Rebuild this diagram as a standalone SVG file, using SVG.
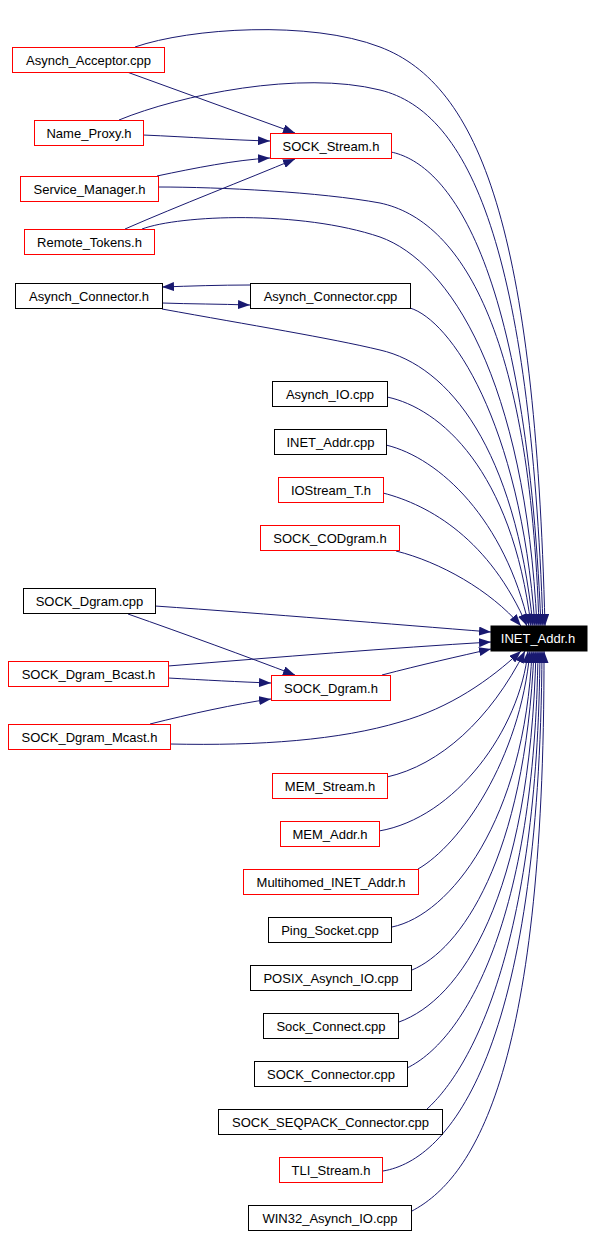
<svg xmlns="http://www.w3.org/2000/svg" width="595" height="1236" viewBox="0 0 595 1236">
<style>
.n rect{fill:#ffffff;stroke-width:1}
.r rect{stroke:#ff0000}
.b rect{stroke:#000000}
.n text{font-family:"Liberation Sans",Arial,sans-serif;font-size:13px;text-anchor:middle;fill:#000000}
#INET_Addr_h rect{fill:#000000;stroke:#000000}
#INET_Addr_h text{fill:#ffffff}
.e path{fill:none;stroke:#191970;stroke-width:1;marker-end:url(#ah)}
</style>
<defs>
<marker id="ah" markerUnits="userSpaceOnUse" markerWidth="12" markerHeight="9" refX="12" refY="4.5" orient="auto">
<path d="M0,0 L12,4.5 L0,9 z" fill="#191970"/>
</marker>
</defs>
<rect width="595" height="1236" fill="#ffffff"/>
<g id="edges" class="e">
<path d="M135,47 C190,28 310,20 380,47 C480,85 535,230 545,626"/>
<path d="M127,72 L295,133"/>
<path d="M119,120 C180,95 300,70 380,90 C470,112 530,250 543,626"/>
<path d="M143,135 C190,137 230,140 270,141"/>
<path d="M391,152 C440,162 525,240 541,626"/>
<path d="M157,176 C195,168 235,160 270,158"/>
<path d="M158,187 C220,187 320,192 380,203 C460,220 530,330 539,626"/>
<path d="M125,229 C180,205 245,180 295,159"/>
<path d="M142,229 C180,215 300,210 380,237 C450,262 525,380 537,626"/>
<path d="M250,285 C220,285 190,286 162,287"/>
<path d="M162,303 C190,304 220,304 250,305"/>
<path d="M162,309 C250,325 330,338 380,350 C450,366 515,450 533,626"/>
<path d="M410,308 C450,320 520,420 535,626"/>
<path d="M387,397 C440,408 512,470 531,626"/>
<path d="M386,445 C440,458 505,520 529,626"/>
<path d="M383,493 C430,505 490,540 527,626"/>
<path d="M396,551 C440,562 490,590 521,626"/>
<path d="M155,606 C270,614 390,624 491,632"/>
<path d="M128,614 C185,634 245,656 295,675"/>
<path d="M168,666 C280,657 390,648 491,642"/>
<path d="M168,678 C205,680 240,682 271,683"/>
<path d="M150,724 C190,714 235,704 271,699"/>
<path d="M382,675 C420,665 460,656 491,649"/>
<path d="M170,744 C260,746 340,740 400,722 C450,708 490,680 521,651"/>
<path d="M387,777 C440,765 490,720 525,651"/>
<path d="M379,831 C455,818 520,730 528,651"/>
<path d="M418,869 C460,845 520,760 530,651"/>
<path d="M392,927 C450,915 525,820 532,651"/>
<path d="M412,970 C460,950 525,860 534,651"/>
<path d="M399,1022 C460,1000 530,900 536,651"/>
<path d="M407,1068 C465,1040 535,920 538,651"/>
<path d="M427,1109 C470,1070 538,950 540,651"/>
<path d="M383,1171 C450,1160 540,1050 542,651"/>
<path d="M412,1211 C470,1180 545,1080 544,651"/>
</g>
<g id="Asynch_Acceptor_cpp" class="n r"><rect x="12.5" y="47.5" width="152" height="25"/><text x="88.5" y="64.5">Asynch_Acceptor.cpp</text></g>
<g id="Name_Proxy_h" class="n r"><rect x="34.5" y="120.5" width="109" height="25"/><text x="89" y="137.5">Name_Proxy.h</text></g>
<g id="SOCK_Stream_h" class="n r"><rect x="270.5" y="133.5" width="121" height="25"/><text x="331" y="150.5">SOCK_Stream.h</text></g>
<g id="Service_Manager_h" class="n r"><rect x="20.5" y="176.5" width="138" height="25"/><text x="89.5" y="193.5">Service_Manager.h</text></g>
<g id="Remote_Tokens_h" class="n r"><rect x="24.5" y="229.5" width="130" height="25"/><text x="89.5" y="246.5">Remote_Tokens.h</text></g>
<g id="Asynch_Connector_h" class="n b"><rect x="15.5" y="283.5" width="147" height="25"/><text x="89" y="300.5">Asynch_Connector.h</text></g>
<g id="Asynch_Connector_cpp" class="n b"><rect x="250.5" y="283.5" width="160" height="25"/><text x="330.5" y="300.5">Asynch_Connector.cpp</text></g>
<g id="Asynch_IO_cpp" class="n b"><rect x="272.5" y="381.5" width="115" height="25"/><text x="330" y="398.5">Asynch_IO.cpp</text></g>
<g id="INET_Addr_cpp" class="n b"><rect x="274.5" y="429.5" width="112" height="25"/><text x="330.5" y="446.5">INET_Addr.cpp</text></g>
<g id="IOStream_T_h" class="n r"><rect x="278.5" y="477.5" width="105" height="25"/><text x="331" y="494.5">IOStream_T.h</text></g>
<g id="SOCK_CODgram_h" class="n r"><rect x="260.5" y="525.5" width="139" height="25"/><text x="330" y="542.5">SOCK_CODgram.h</text></g>
<g id="SOCK_Dgram_cpp" class="n b"><rect x="23.5" y="588.5" width="132" height="25"/><text x="89.5" y="605.5">SOCK_Dgram.cpp</text></g>
<g id="INET_Addr_h" class="n"><rect x="491" y="626" width="96" height="25"/><text x="538" y="643">INET_Addr.h</text></g>
<g id="SOCK_Dgram_Bcast_h" class="n r"><rect x="8.5" y="661.5" width="160" height="25"/><text x="88.5" y="678.5">SOCK_Dgram_Bcast.h</text></g>
<g id="SOCK_Dgram_h" class="n r"><rect x="271.5" y="675.5" width="119" height="25"/><text x="331" y="692.5">SOCK_Dgram.h</text></g>
<g id="SOCK_Dgram_Mcast_h" class="n r"><rect x="8.5" y="724.5" width="162" height="25"/><text x="89.5" y="741.5">SOCK_Dgram_Mcast.h</text></g>
<g id="MEM_Stream_h" class="n r"><rect x="272.5" y="773.5" width="115" height="25"/><text x="330" y="790.5">MEM_Stream.h</text></g>
<g id="MEM_Addr_h" class="n r"><rect x="280.5" y="821.5" width="99" height="25"/><text x="330" y="838.5">MEM_Addr.h</text></g>
<g id="Multihomed_INET_Addr_h" class="n r"><rect x="243.5" y="869.5" width="175" height="25"/><text x="331" y="886.5">Multihomed_INET_Addr.h</text></g>
<g id="Ping_Socket_cpp" class="n b"><rect x="268.5" y="917.5" width="123" height="25"/><text x="330" y="934.5">Ping_Socket.cpp</text></g>
<g id="POSIX_Asynch_IO_cpp" class="n b"><rect x="250.5" y="965.5" width="161" height="25"/><text x="331" y="982.5">POSIX_Asynch_IO.cpp</text></g>
<g id="Sock_Connect_cpp" class="n b"><rect x="263.5" y="1013.5" width="135" height="25"/><text x="331" y="1030.5">Sock_Connect.cpp</text></g>
<g id="SOCK_Connector_cpp" class="n b"><rect x="254.5" y="1061.5" width="153" height="25"/><text x="331" y="1078.5">SOCK_Connector.cpp</text></g>
<g id="SOCK_SEQPACK_Connector_cpp" class="n b"><rect x="218.5" y="1109.5" width="224" height="25"/><text x="330.5" y="1126.5">SOCK_SEQPACK_Connector.cpp</text></g>
<g id="TLI_Stream_h" class="n r"><rect x="279.5" y="1157.5" width="103" height="25"/><text x="331" y="1174.5">TLI_Stream.h</text></g>
<g id="WIN32_Asynch_IO_cpp" class="n b"><rect x="248.5" y="1205.5" width="163" height="25"/><text x="330" y="1222.5">WIN32_Asynch_IO.cpp</text></g>
</svg>
